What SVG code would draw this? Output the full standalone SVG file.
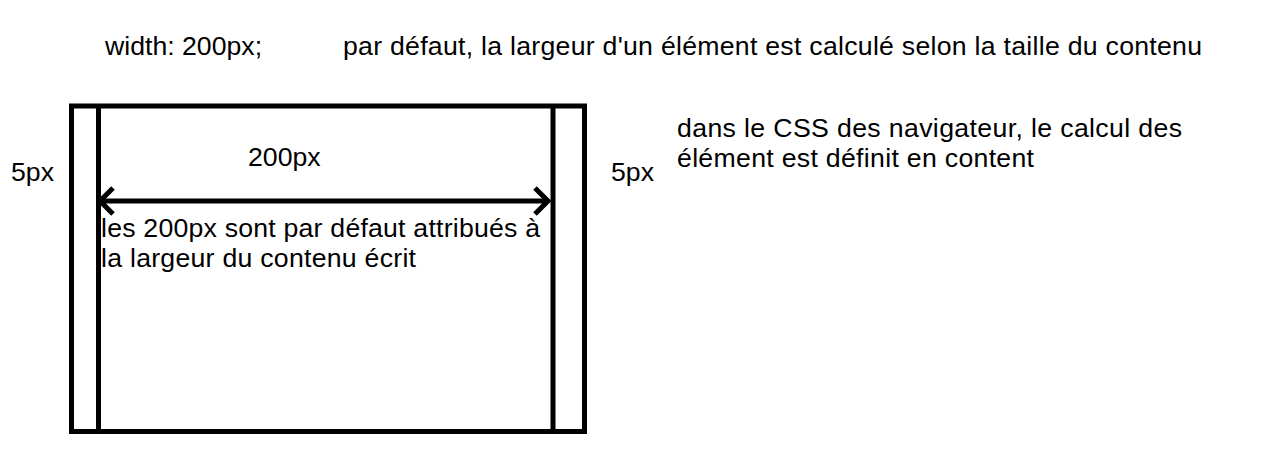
<svg xmlns="http://www.w3.org/2000/svg" width="1261" height="468" viewBox="0 0 1261 468">
<style>
text{font-family:"Liberation Sans",Arial,sans-serif;font-size:26.67px;fill:#000}
.s{fill:none;stroke:#000;stroke-width:5}
</style>
<rect width="1261" height="468" fill="#fff"/>
<g id="texts-top">
<text x="105" y="55">width: 200px;</text>
<text x="343" y="55" textLength="859" lengthAdjust="spacing">par défaut, la largeur d'un élément est calculé selon la taille du contenu</text>
</g>
<g id="box">
<rect class="s" x="71.5" y="106" width="513" height="325.5"/>
<line class="s" x1="98.5" y1="106" x2="98.5" y2="431.5"/>
<line class="s" x1="553" y1="106" x2="553" y2="431.5"/>
</g>
<g id="connectors">
<line class="s" x1="100" y1="201" x2="548" y2="201"/>
<polyline class="s" points="113,188 100,201 113,214"/>
<polyline class="s" points="535,188 548,201 535,214"/>
</g>
<g id="labels">
<text x="248" y="166">200px</text>
<text x="11" y="181">5px</text>
<text x="611" y="181">5px</text>
<text x="101" y="237" textLength="439" lengthAdjust="spacing">les 200px sont par défaut attribués à</text>
<text x="101" y="267" textLength="315" lengthAdjust="spacing">la largeur du contenu écrit</text>
<text x="677" y="137" textLength="505" lengthAdjust="spacing">dans le CSS des navigateur, le calcul des</text>
<text x="677" y="167" textLength="357" lengthAdjust="spacing">élément est définit en content</text>
</g>
</svg>
